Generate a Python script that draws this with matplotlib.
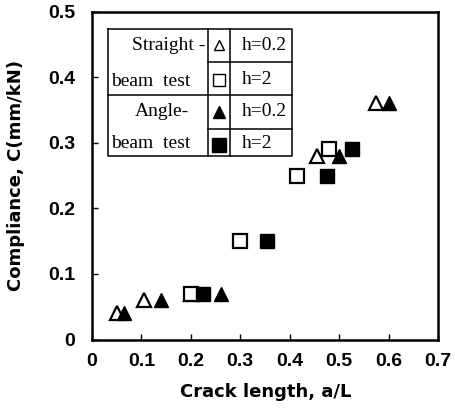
import matplotlib.pyplot as plt
from matplotlib.lines import Line2D

# Compliance vs. crack length, straight- and angle-beam tests
sb_h02_x = [0.05, 0.105, 0.20, 0.455, 0.575]
sb_h02_y = [0.04, 0.06, 0.07, 0.28, 0.36]
sb_h2_x = [0.20, 0.30, 0.415, 0.48]
sb_h2_y = [0.07, 0.15, 0.25, 0.29]
ab_h02_x = [0.065, 0.14, 0.26, 0.50, 0.60]
ab_h02_y = [0.04, 0.06, 0.07, 0.28, 0.36]
ab_h2_x = [0.225, 0.355, 0.475, 0.525]
ab_h2_y = [0.07, 0.15, 0.25, 0.29]

x_ticks = [0, 0.1, 0.2, 0.3, 0.4, 0.5, 0.6, 0.7]
y_ticks = [0, 0.1, 0.2, 0.3, 0.4, 0.5]

W, H = 456, 411
fig = plt.figure(figsize=(W / 100, H / 100), dpi=100)
ax = fig.add_axes([92 / W, 1 - 339.5 / H, 346 / W, 327.8 / H])

ax.plot(sb_h02_x, sb_h02_y, ls='none', marker='^', ms=10, mfc='white', mec='black', mew=1.6)
ax.plot(sb_h2_x, sb_h2_y, ls='none', marker='s', ms=9.5, mfc='white', mec='black', mew=1.6)
ax.plot(ab_h02_x, ab_h02_y, ls='none', marker='^', ms=10, mfc='black', mec='black')
ax.plot(ab_h2_x, ab_h2_y, ls='none', marker='s', ms=9.5, mfc='black', mec='black')

ax.set_xlim(0, 0.7)
ax.set_ylim(0, 0.5)
ax.set_xticks(x_ticks)
ax.set_yticks(y_ticks)
ax.set_xticklabels(['0' if v == 0 else f'{v:.1f}' for v in x_ticks])
ax.set_yticklabels(['0' if v == 0 else f'{v:.1f}' for v in y_ticks])
ax.tick_params(direction='in', length=4, width=1, labelsize=14)
ax.tick_params(axis='x', pad=10)
ax.tick_params(axis='y', pad=12)
for lab in ax.get_xticklabels() + ax.get_yticklabels():
    lab.set_fontfamily('Liberation Sans')
    lab.set_fontweight('bold')
for sp in ax.spines.values():
    sp.set_linewidth(1.8)

lbl = dict(fontsize=13, family='DejaVu Sans', fontweight='bold')
ax.set_xlabel('Crack length, a/L', **lbl)
ax.set_ylabel('Compliance, C(mm/kN)', **lbl)
ax.xaxis.set_label_coords(0.503, -0.133)
ax.yaxis.set_label_coords(-0.194, 0.5)


# legend drawn as a small table, pixel coords -> figure fraction
def fx(px):
    return px / W


def fy(py):
    return 1 - py / H


left, c1, c2, right = 108, 208, 230, 292
top, r1, r2, r3, bot = 29, 62, 95, 129, 156
tkw = dict(transform=fig.transFigure, color='black', lw=1.1)
fig.add_artist(Line2D([fx(left), fx(right), fx(right), fx(left), fx(left)],
                      [fy(top), fy(top), fy(bot), fy(bot), fy(top)], **tkw))
fig.add_artist(Line2D([fx(c1), fx(c1)], [fy(top), fy(bot)], **tkw))
fig.add_artist(Line2D([fx(c2), fx(c2)], [fy(top), fy(bot)], **tkw))
fig.add_artist(Line2D([fx(left), fx(right)], [fy(r2), fy(r2)], **tkw))
for r in (r1, r3):
    fig.add_artist(Line2D([fx(c1), fx(right)], [fy(r), fy(r)], **tkw))

serif = dict(family='Liberation Serif', fontsize=14, va='center')
fig.text(fx(205), fy(45), 'Straight -', ha='right', **serif)
fig.text(fx(111), fy(81), 'beam  test', ha='left', **serif)
fig.text(fx(162), fy(112), 'Angle-', ha='center', **serif)
fig.text(fx(111), fy(144), 'beam  test', ha='left', **serif)
for yy, txt in zip((45, 80, 112, 144), ('h=0.2', 'h=2', 'h=0.2', 'h=2')):
    fig.text(fx(242), fy(yy), txt, ha='left', **serif)

mkw = dict(transform=fig.transFigure, ls='none', mec='black')
fig.add_artist(Line2D([fx(219)], [fy(45)], marker='^', ms=7.5, mfc='white', mew=1.0, **mkw))
fig.add_artist(Line2D([fx(219)], [fy(80)], marker='s', ms=9, mfc='white', mew=1.0, **mkw))
fig.add_artist(Line2D([fx(219)], [fy(112)], marker='^', ms=8.5, mfc='black', **mkw))
fig.add_artist(Line2D([fx(219)], [fy(145)], marker='s', ms=9.5, mfc='black', **mkw))

fig.savefig('out.png', dpi=100)
